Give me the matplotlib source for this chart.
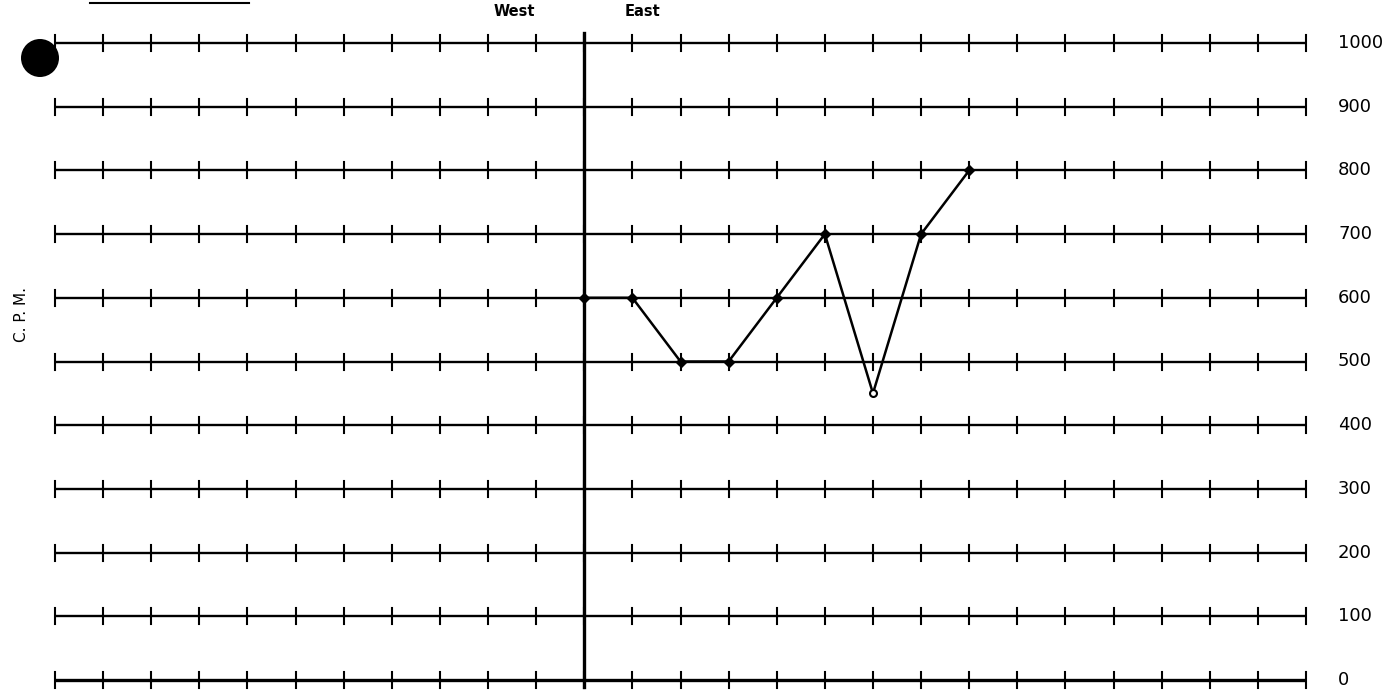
import matplotlib
matplotlib.use("Agg")
import matplotlib.pyplot as plt
from matplotlib.patches import Ellipse

# Chart values
cpm_levels = [0, 100, 200, 300, 400, 500, 600, 700, 800, 900, 1000]
level_labels = ["0", "100", "200", "300", "400", "500", "600", "700", "800", "900", "1000"]
n_stations = 26          # station intervals along each row
divide_index = 11        # West / East divide
east_stations = [11, 12, 13, 14, 15, 16, 17, 18, 19]
east_cpm = [600, 600, 500, 500, 600, 700, 450, 700, 800]
open_points = [450]      # readings drawn with a hollow marker

W, H = 1399, 697
fig = plt.figure(figsize=(W / 100, H / 100), dpi=100)
fig.patch.set_facecolor("white")

x0, x1 = 55, 1306
y0, y1 = 680, 43
ax = fig.add_axes([x0 / W, (H - y0) / H, (x1 - x0) / W, (y0 - y1) / H])
ax.set_xlim(0, n_stations)
ax.set_ylim(0, 1000)
ax.axis("off")

px_per_unit = (y0 - y1) / 1000.0
tick_half = 8 / px_per_unit

# Ruled rows with station ticks
for lvl, lab in zip(cpm_levels, level_labels):
    lw = 2.4 if lvl == 0 else 1.7
    ax.plot([0, n_stations], [lvl, lvl], color="black", lw=lw,
            solid_capstyle="butt", clip_on=False)
    for i in range(n_stations + 1):
        ax.plot([i, i], [lvl - tick_half, lvl + tick_half], color="black",
                lw=1.5, clip_on=False)
    ax.text(n_stations + 32 / 48.1, lvl, lab, ha="left", va="center",
            fontsize=13, color="black", clip_on=False)

# West / East divide
ax.plot([divide_index, divide_index], [-11, 1016], color="black", lw=2.4,
        clip_on=False)
ax.text(divide_index - 1.46, 1049, "West", ha="center", va="center",
        fontsize=10.5, fontweight="bold", clip_on=False)
ax.text(divide_index + 1.2, 1049, "East", ha="center", va="center",
        fontsize=10.5, fontweight="bold", clip_on=False)

# Count-rate trace
ax.plot(east_stations, east_cpm, color="black", lw=1.8, clip_on=False, zorder=3)
for xs, ys in zip(east_stations, east_cpm):
    if ys in open_points:
        ax.plot(xs, ys, marker="o", ms=5, mfc="white", mec="black", mew=1.5,
                clip_on=False, zorder=4)
    else:
        ax.plot(xs, ys, marker="D", ms=5, color="black", clip_on=False, zorder=4)

# Axis caption
fig.text(22 / W, 1 - 315 / H, "C. P. M.", rotation=90, ha="center", va="center",
         fontsize=11)

# Punch hole and header rule
fig.add_artist(Ellipse((40 / W, 1 - 58 / H), 38 / W, 38 / H,
                       transform=fig.transFigure, facecolor="black",
                       edgecolor="none"))
fig.add_artist(plt.Line2D([90 / W, 249 / W], [1 - 3 / H, 1 - 3 / H],
                          color="black", lw=1.5))

fig.savefig("out.png", dpi=100, facecolor="white")
